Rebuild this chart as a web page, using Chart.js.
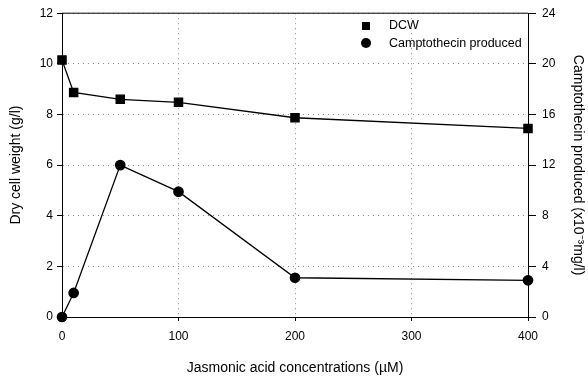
<!DOCTYPE html>
<html lang="en">
<head>
  <meta charset="UTF-8" />
  <title>DCW and camptothecin vs jasmonic acid</title>
  <script src="https://cdn.jsdelivr.net/npm/chart.js"></script>
  <style>
    body{margin:0;background:#fff;}
    .wrap{position:relative;width:588px;height:378px;}
    .legend{position:absolute;left:362px;top:16px;font:12.5px "Liberation Sans",Arial,sans-serif;color:#000;}
    .legend div{height:18px;line-height:18px;white-space:nowrap;}
    .legend i{display:inline-block;width:8px;height:8px;background:#000;margin-right:19px;vertical-align:-0.5px;}
    .legend i.dot{width:10px;height:10px;border-radius:50%;margin-left:-1px;margin-right:18px;vertical-align:-1px;}
  </style>
</head>
<body>
  <div class="wrap">
    <canvas id="chart" width="588" height="378"></canvas>
    <div class="legend">
      <div><i></i>DCW</div>
      <div><i class="dot"></i>Camptothecin produced</div>
    </div>
  </div>

  <script>
    const concentrations=[0,10,50,100,200,400];
    const dcw=[10.15,8.87,8.6,8.48,7.87,7.45];
    const camptothecin=[0,1.9,12.0,9.9,3.1,2.9];
    const xTicks=[0,100,200,300,400];
    const leftTicks=[0,2,4,6,8,10,12];
    const rightTicks=[0,4,8,12,16,20,24];

    const font={family:'"Liberation Sans", Arial, sans-serif',size:12};
    const titleFont={family:'"Liberation Sans", Arial, sans-serif',size:14};

    const topBorder={
      id:'topBorder',
      beforeDatasetsDraw(chart){
        const {ctx,chartArea:a}=chart;
        ctx.save();
        ctx.strokeStyle='#000';ctx.lineWidth=1;
        ctx.beginPath();ctx.moveTo(a.left,a.top);ctx.lineTo(a.right,a.top);ctx.stroke();
        ctx.restore();
      }
    };

    new Chart(document.getElementById('chart'),{
      type:'line',
      data:{datasets:[
        {label:'DCW',data:concentrations.map((x,i)=>({x,y:dcw[i]})),yAxisID:'y',
         borderColor:'#000',backgroundColor:'#000',borderWidth:1.3,pointStyle:'rect',
         pointRadius:5.8,tension:0,clip:false},
        {label:'Camptothecin produced',data:concentrations.map((x,i)=>({x,y:camptothecin[i]})),yAxisID:'y1',
         borderColor:'#000',backgroundColor:'#000',borderWidth:1.3,pointStyle:'circle',
         pointRadius:4.7,tension:0,clip:false}
      ]},
      options:{
        responsive:false,animation:false,devicePixelRatio:1,
        layout:{padding:{top:13,left:0,right:0,bottom:0}},
        plugins:{legend:{display:false},tooltip:{enabled:false}},
        scales:{
          x:{type:'linear',min:0,max:400,
             afterBuildTicks:s=>{s.ticks=xTicks.map(v=>({value:v}));},
             afterFit:s=>{s.height=61;},
             ticks:{font,color:'#000',padding:8,maxRotation:0},
             grid:{color:'#8a8a8a',tickColor:'#000',tickLength:4,tickBorderDash:[]},
             border:{color:'#000',width:1,dash:[1,4]},
             title:{display:true,text:'Jasmonic acid concentrations (\u00b5M)',font:titleFont,color:'#000',padding:{top:0,bottom:1}}},
          y:{position:'left',min:0,max:12,
             afterBuildTicks:s=>{s.ticks=leftTicks.map(v=>({value:v}));},
             afterFit:s=>{s.width=62;},
             ticks:{font,color:'#000',padding:4},
             grid:{color:'#8a8a8a',tickColor:'#000',tickLength:5,tickBorderDash:[]},
             border:{color:'#000',width:1,dash:[1,4]},
             title:{display:true,text:'Dry cell weight (g/l)',font:titleFont,color:'#000',padding:{top:8,bottom:0}}},
          y1:{position:'right',min:0,max:24,
             afterBuildTicks:s=>{s.ticks=rightTicks.map(v=>({value:v}));},
             afterFit:s=>{s.width=60;},
             ticks:{font,color:'#000',padding:6},
             grid:{drawOnChartArea:false,tickColor:'#000',tickLength:8},
             border:{color:'#000',width:1},
             title:{display:true,text:'Camptothecin produced (x10\u207b\u00b3mg/l)',font:titleFont,color:'#000',padding:{top:2,bottom:0}}}
        }
      },
      plugins:[topBorder]
    });
  </script>
</body>
</html>
